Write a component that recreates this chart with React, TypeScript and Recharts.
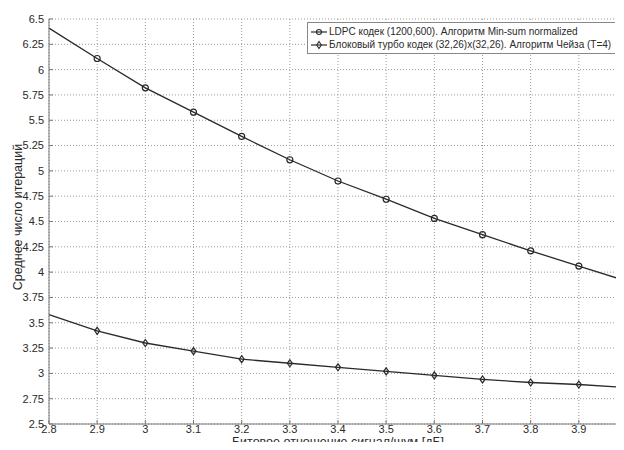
import React from 'react';
import { LineChart, Line, XAxis, YAxis, CartesianGrid, Label } from 'recharts';

// Bit SNR, dB
const snr = [2.8, 2.9, 3.0, 3.1, 3.2, 3.3, 3.4, 3.5, 3.6, 3.7, 3.8, 3.9, 4.0];
// mean iteration count
const ldpcIters = [6.41, 6.11, 5.82, 5.58, 5.34, 5.11, 4.9, 4.72, 4.53, 4.37, 4.21, 4.06, 3.91];
const turboIters = [3.58, 3.42, 3.3, 3.22, 3.14, 3.1, 3.06, 3.02, 2.98, 2.94, 2.91, 2.89, 2.86];

const xTicks = [2.8, 2.9, 3.0, 3.1, 3.2, 3.3, 3.4, 3.5, 3.6, 3.7, 3.8, 3.9];
const yTicks = [2.5, 2.75, 3, 3.25, 3.5, 3.75, 4, 4.25, 4.5, 4.75, 5, 5.25, 5.5, 5.75, 6, 6.25, 6.5];

const seriesNames = {
    ldpc: 'LDPC кодек (1200,600). Алгоритм Min-sum normalized',
    turbo: 'Блоковый турбо кодек (32,26)x(32,26). Алгоритм Чейза (T=4)',
};

const chartData = snr.map((x, i) => ({ x, ldpc: ldpcIters[i], turbo: turboIters[i] }));

const INK = '#2a2a2a';
const FONT = '"Liberation Sans", Arial, sans-serif';

// markers only at the inner points, like the original plot
const CircleDot = (props: any) => {
    const { cx, cy, index } = props;
    if (index === 0 || index === snr.length - 1) return <g key={index} />;
    return <circle key={index} cx={cx} cy={cy} r={3} fill="none" stroke={INK} strokeWidth={1.2} />;
};

const DiamondDot = (props: any) => {
    const { cx, cy, index } = props;
    if (index === 0 || index === snr.length - 1) return <g key={index} />;
    return (
        <path key={index} d={`M${cx},${cy - 3.5} L${cx + 2.5},${cy} L${cx},${cy + 3.5} L${cx - 2.5},${cy} Z`}
            fill="none" stroke={INK} strokeWidth={1.2} />
    );
};

// legend sits inside the axes box, top right, on top of the grid
const LegendBox = () => (
    <div style={{
        position: 'absolute', top: 22, left: 307,
        background: '#fff', border: '1px solid #888', borderRight: 'none', padding: '2px 4px 2px 3px',
        fontFamily: FONT, fontSize: 10, color: INK, lineHeight: '13px', whiteSpace: 'nowrap',
    }}>
        {[{ k: 'ldpc', shape: 'c' }, { k: 'turbo', shape: 'd' }].map(item => (
            <div key={item.k} style={{ display: 'flex', alignItems: 'center' }}>
                <svg width={16} height={10} style={{ marginRight: 2 }}>
                    <line x1={0} y1={5} x2={16} y2={5} stroke={INK} strokeWidth={1.2} />
                    {item.shape === 'c'
                        ? <circle cx={8} cy={5} r={2.5} fill="none" stroke={INK} strokeWidth={1.1} />
                        : <path d="M8,1.5 L10.3,5 L8,8.5 L5.7,5 Z" fill="none" stroke={INK} strokeWidth={1.1} />}
                </svg>
                <span>{seriesNames[item.k as 'ldpc' | 'turbo']}</span>
            </div>
        ))}
    </div>
);

export default function App() {
    return (
        <div style={{ margin: -8, width: 624, height: 450, overflow: 'hidden', background: '#fff', position: 'relative' }}>
            <LineChart width={640} height={450} data={chartData}
                margin={{ top: 19, right: 13, left: 0, bottom: 0 }}>
                <CartesianGrid stroke="#9a9a9a" strokeDasharray="1 2" />
                <XAxis dataKey="x" type="number" domain={[2.8, 4.0]} ticks={xTicks}
                    tickFormatter={(v) => String(Math.round(v * 10) / 10)}
                    stroke="#777" tickSize={-4} tickMargin={5} height={26} interval={0}
                    tick={{ fill: INK, fontSize: 11, fontFamily: FONT }}>
                    <Label content={() => (
                        <text x={338} y={446} textAnchor="middle" fill={INK} fontSize={12.5} fontFamily={FONT}>
                            Битовое отношение сигнал/шум [дБ]
                        </text>
                    )} />
                </XAxis>
                <YAxis type="number" domain={[2.5, 6.5]} ticks={yTicks} interval={0}
                    stroke="#777" tickSize={-4} tickMargin={9} width={49}
                    tick={{ fill: INK, fontSize: 11, fontFamily: FONT }}>
                    <Label content={() => (
                        <text x={0} y={0} transform="translate(22 217) rotate(-90)" textAnchor="middle"
                            fill={INK} fontSize={12.5} fontFamily={FONT}>
                            Среднее число итераций
                        </text>
                    )} />
                </YAxis>
                <Line dataKey="ldpc" stroke={INK} strokeWidth={1.3} dot={CircleDot} isAnimationActive={false} />
                <Line dataKey="turbo" stroke={INK} strokeWidth={1.3} dot={DiamondDot} isAnimationActive={false} />
            </LineChart>
            <LegendBox />
        </div>
    );
}
